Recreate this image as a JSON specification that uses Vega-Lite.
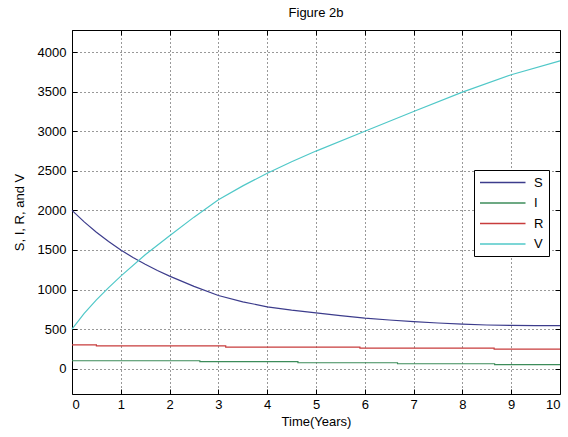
{
  "$schema": "https://vega.github.io/schema/vega-lite/v6.json",
  "width": 488,
  "height": 364,
  "autosize": {"type": "none"},
  "padding": {"left": 72, "top": 30, "right": 8, "bottom": 43},
  "background": "white",
  "title": {"text": "Figure 2b", "fontSize": 13, "font": "Liberation Sans", "fontWeight": "normal", "color": "#000", "offset": 10},
  "config": {
    "view": {"stroke": "#000", "strokeWidth": 1},
    "axis": {
      "labelFont": "Liberation Sans", "labelFontSize": 13, "labelColor": "#000",
      "titleFont": "Liberation Sans", "titleFontSize": 13, "titleFontWeight": "normal", "titleColor": "#000",
      "domainColor": "#000", "tickColor": "#000", "gridColor": "#000", "gridDash": [1, 3], "gridOpacity": 0.8
    },
    "legend": {"labelFont": "Liberation Sans", "labelFontSize": 13, "labelColor": "#000"}
  },
  "datasets": {
    "sv": [
      {"t": 0, "value": 2000, "series": "S"},
      {"t": 0.25, "value": 1855, "series": "S"},
      {"t": 0.5, "value": 1725, "series": "S"},
      {"t": 0.75, "value": 1608, "series": "S"},
      {"t": 1, "value": 1500, "series": "S"},
      {"t": 1.25, "value": 1405, "series": "S"},
      {"t": 1.5, "value": 1320, "series": "S"},
      {"t": 1.75, "value": 1240, "series": "S"},
      {"t": 2, "value": 1170, "series": "S"},
      {"t": 2.5, "value": 1040, "series": "S"},
      {"t": 3, "value": 925, "series": "S"},
      {"t": 3.5, "value": 845, "series": "S"},
      {"t": 4, "value": 782, "series": "S"},
      {"t": 4.5, "value": 740, "series": "S"},
      {"t": 5, "value": 705, "series": "S"},
      {"t": 5.5, "value": 670, "series": "S"},
      {"t": 6, "value": 638, "series": "S"},
      {"t": 6.5, "value": 615, "series": "S"},
      {"t": 7, "value": 595, "series": "S"},
      {"t": 7.5, "value": 577, "series": "S"},
      {"t": 8, "value": 562, "series": "S"},
      {"t": 8.5, "value": 552, "series": "S"},
      {"t": 9, "value": 547, "series": "S"},
      {"t": 9.5, "value": 545, "series": "S"},
      {"t": 10, "value": 545, "series": "S"},
      {"t": 0, "value": 500, "series": "V"},
      {"t": 0.25, "value": 700, "series": "V"},
      {"t": 0.5, "value": 870, "series": "V"},
      {"t": 0.75, "value": 1025, "series": "V"},
      {"t": 1, "value": 1170, "series": "V"},
      {"t": 1.5, "value": 1440, "series": "V"},
      {"t": 2, "value": 1680, "series": "V"},
      {"t": 2.5, "value": 1915, "series": "V"},
      {"t": 3, "value": 2135, "series": "V"},
      {"t": 3.5, "value": 2310, "series": "V"},
      {"t": 4, "value": 2470, "series": "V"},
      {"t": 4.5, "value": 2615, "series": "V"},
      {"t": 5, "value": 2750, "series": "V"},
      {"t": 6, "value": 3000, "series": "V"},
      {"t": 7, "value": 3250, "series": "V"},
      {"t": 8, "value": 3495, "series": "V"},
      {"t": 9, "value": 3715, "series": "V"},
      {"t": 10, "value": 3890, "series": "V"}
    ],
    "ir": [
      {"t": 0, "value": 100, "series": "I"},
      {"t": 2.62, "value": 88, "series": "I"},
      {"t": 4.63, "value": 75, "series": "I"},
      {"t": 6.67, "value": 62, "series": "I"},
      {"t": 8.66, "value": 50, "series": "I"},
      {"t": 10, "value": 50, "series": "I"},
      {"t": 0, "value": 300, "series": "R"},
      {"t": 0.5, "value": 288, "series": "R"},
      {"t": 3.15, "value": 273, "series": "R"},
      {"t": 5.9, "value": 260, "series": "R"},
      {"t": 8.65, "value": 247, "series": "R"},
      {"t": 10, "value": 247, "series": "R"}
    ]
  },
  "layer": [
    {
      "data": {"name": "sv"},
      "mark": {"type": "line", "strokeWidth": 1.2},
      "encoding": {
        "x": {"field": "t", "type": "quantitative", "scale": {"domain": [0, 10], "nice": false},
          "axis": {"title": "Time(Years)", "values": [0,1,2,3,4,5,6,7,8,9,10], "format": "d", "tickSize": -5, "labelPadding": 9, "titleY": 21, "domain": false}},
        "y": {"field": "value", "type": "quantitative", "scale": {"domain": [-320, 4280], "nice": false, "zero": false},
          "axis": {"title": "S, I, R, and V", "values": [0,500,1000,1500,2000,2500,3000,3500,4000], "format": "d", "tickSize": -5, "labelPadding": 11, "titleX": -46, "domain": false}},
        "color": {"field": "series", "type": "nominal",
          "scale": {"domain": ["S", "I", "R", "V"], "range": ["#3c3c8c", "#3c8c5a", "#c83c3c", "#50c8c8"]},
          "legend": {"title": null, "orient": "none", "legendX": 402, "legendY": 140, "fillColor": "white", "strokeColor": "#000", "padding": 5, "symbolType": "M-1,0H6", "symbolSize": 169, "symbolStrokeWidth": 1.5, "symbolOpacity": 1, "labelOffset": 40, "rowPadding": 5.5}}
      }
    },
    {
      "data": {"name": "ir"},
      "mark": {"type": "line", "interpolate": "step-after", "strokeWidth": 1.2},
      "encoding": {
        "x": {"field": "t", "type": "quantitative", "scale": {"domain": [0, 10], "nice": false},
          "axis": {"orient": "top", "title": null, "labels": false, "grid": false, "values": [0,1,2,3,4,5,6,7,8,9,10], "tickSize": -5, "domain": false}},
        "y": {"field": "value", "type": "quantitative", "scale": {"domain": [-320, 4280], "nice": false, "zero": false},
          "axis": {"orient": "right", "title": null, "labels": false, "grid": false, "values": [0,500,1000,1500,2000,2500,3000,3500,4000], "tickSize": -5, "domain": false}},
        "color": {"field": "series", "type": "nominal"}
      }
    }
  ],
  "resolve": {"scale": {"x": "independent", "y": "independent"}}
}
